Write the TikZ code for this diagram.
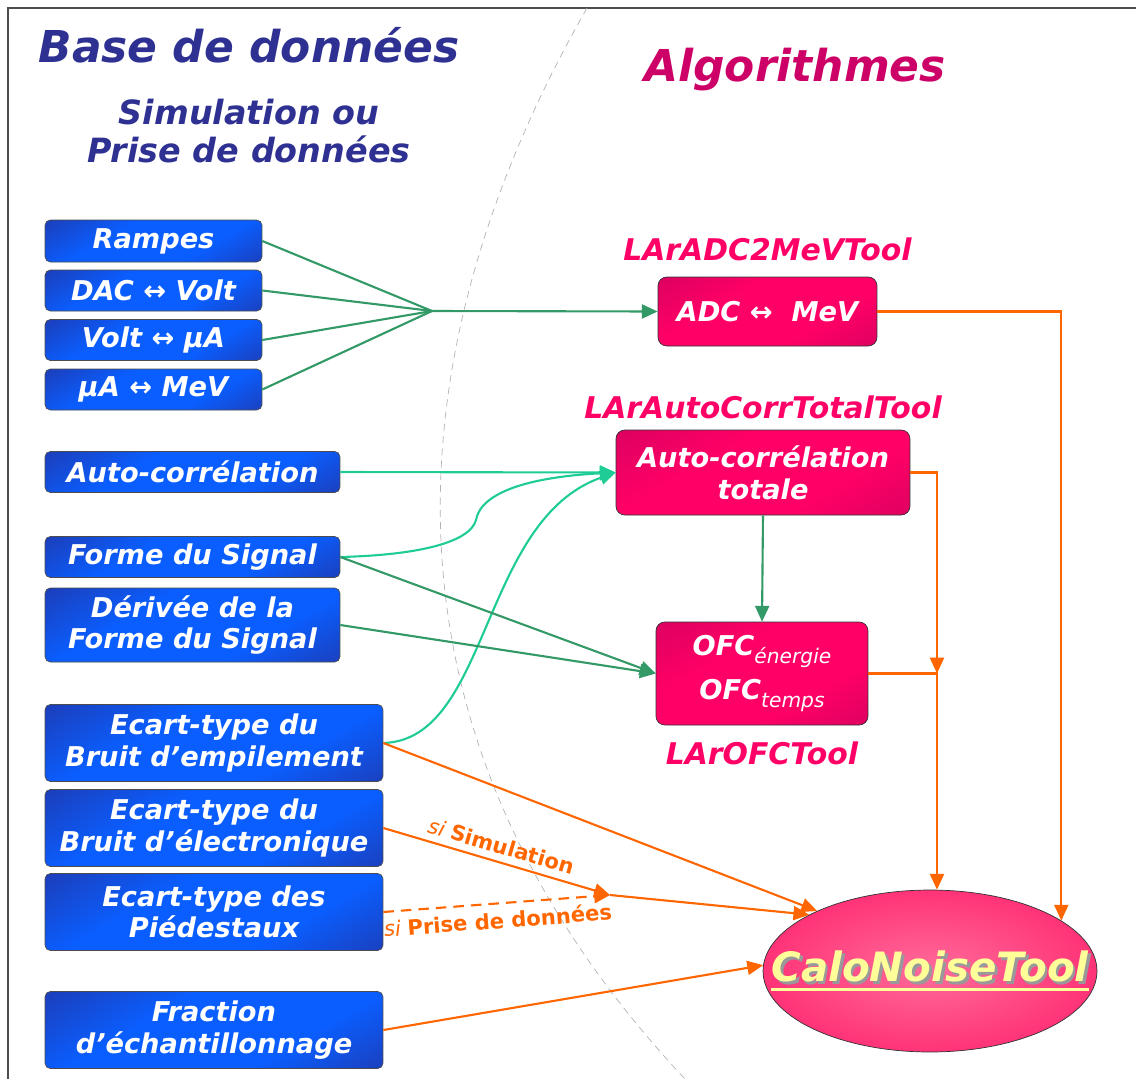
\documentclass[tikz,border=0pt]{standalone}
\usepackage{fontspec}
\setmainfont{DejaVu Sans}
\usetikzlibrary{arrows.meta,shapes.geometric,calc,positioning}

\definecolor{navybox}{HTML}{28288A}
\definecolor{brightbox}{HTML}{0A5EFF}
\definecolor{magdark}{HTML}{C4005C}
\definecolor{magbright}{HTML}{FF0066}
\definecolor{titleblue}{HTML}{2E3192}
\definecolor{titlemag}{HTML}{CC0066}
\definecolor{toolmag}{HTML}{FF0066}
\definecolor{linkgreen}{HTML}{339966}
\definecolor{linkteal}{HTML}{1FCC96}
\definecolor{linkorange}{HTML}{FF6600}
\definecolor{calopink}{HTML}{FF3377}
\definecolor{calolight}{HTML}{FF6B9A}
\definecolor{caloyellow}{HTML}{FFFF99}

\pgfdeclareverticalshading{bluefill}{100bp}{color(0bp)=(navybox); color(35bp)=(brightbox); color(62bp)=(brightbox); color(100bp)=(navybox)}
\pgfdeclareverticalshading{magfill}{100bp}{color(0bp)=(magdark); color(35bp)=(magbright); color(62bp)=(magbright); color(100bp)=(magdark)}

\newcommand{\thickul}[1]{\setbox0\hbox{#1}\rlap{\color{black!40}\hspace{1.5pt}\raisebox{-1.5pt}{#1}}\rlap{\raisebox{-5pt}{\rule{\wd0}{1.8pt}}}\box0}

\begin{document}
\begin{tikzpicture}[x=0.02cm,y=-0.02cm,>={Triangle[length=9pt,width=8pt]}]
\tikzstyle{datab}=[rectangle,rounded corners=3pt,draw=black!70,thin,shading=bluefill,shading angle=30,text=white,font=\fontsize{15.5}{18}\selectfont\bfseries\itshape,align=center,inner sep=2pt]
\tikzstyle{algob}=[rectangle,rounded corners=5pt,draw=black!80,thin,shading=magfill,shading angle=30,text=white,font=\fontsize{15.5}{18}\selectfont\bfseries\itshape,align=center,inner sep=2pt]
\tikzstyle{toolname}=[text=toolmag,font=\fontsize{17}{19}\selectfont\bfseries\itshape,inner sep=1pt]
\tikzstyle{bigtitle}=[font=\fontsize{25}{28}\selectfont\bfseries\itshape]
\tikzstyle{greenlink}=[linkgreen,line width=1.2pt]
\tikzstyle{teallink}=[linkteal,line width=1.2pt]
\tikzstyle{orangelink}=[linkorange,line width=1.2pt]
\tikzstyle{cond}=[text=linkorange,font=\fontsize{12}{14}\selectfont,inner sep=4pt]

\useasboundingbox (0,0) rectangle (1136,1079);
\draw[black!70,line width=1.5pt] (8,1079) -- (8,8) -- (1136,8);
\draw[gray!60,dash pattern=on 4pt off 3pt,thin] (587,8) .. controls (420,300) and (330,700) .. (685,1079);

% titres
\node[bigtitle,text=titleblue] (basetitle) at (249,45) {Base de données};
\node[text=titleblue,align=center,font=\fontsize{19}{22}\selectfont\bfseries\itshape] (source) at (249,131) {Simulation ou\\Prise de données};
\node[bigtitle,text=titlemag] (algotitle) at (795,70) {Algorithmes};

% base de donnees
\node[datab,minimum width=4.34cm,minimum height=0.84cm] (rampes) at (153.5,241) {Rampes};
\node[datab,minimum width=4.34cm,minimum height=0.82cm] (dac) at (153.5,290.5) {DAC ↔ Volt};
\node[datab,minimum width=4.34cm,minimum height=0.82cm] (voltua) at (153.5,340) {Volt ↔ μA};
\node[datab,minimum width=4.34cm,minimum height=0.82cm] (uamev) at (153.5,389.5) {μA ↔ MeV};
\node[datab,minimum width=5.9cm,minimum height=0.82cm] (autocorr) at (192.5,472) {Auto-corrélation};
\node[datab,minimum width=5.9cm,minimum height=0.82cm] (forme) at (192.5,557) {Forme du Signal};
\node[datab,minimum width=5.9cm,minimum height=1.48cm] (derivee) at (192.5,625) {Dérivée de la\\Forme du Signal};
\node[datab,minimum width=6.76cm,minimum height=1.54cm] (empil) at (214,743) {Ecart-type du\\Bruit d'empilement};
\node[datab,minimum width=6.76cm,minimum height=1.54cm] (electro) at (214,828) {Ecart-type du\\Bruit d'électronique};
\node[datab,minimum width=6.76cm,minimum height=1.54cm] (pied) at (214,912) {Ecart-type des\\Piédestaux};
\node[datab,minimum width=6.76cm,minimum height=1.54cm] (fraction) at (214,1030) {Fraction\\d'échantillonnage};

% algorithmes
\node[algob,minimum width=4.38cm,minimum height=1.38cm] (adc) at (767.5,311.5) {ADC ↔~~MeV};
\node[toolname] (adcname) [above=8pt of adc] {LArADC2MeVTool};
\node[algob,minimum width=5.88cm,minimum height=1.7cm] (actot) at (763,472.5) {Auto-corrélation\\totale};
\node[toolname] (actotname) [above=5pt of actot] {LArAutoCorrTotalTool};
\node[algob,minimum width=4.24cm,minimum height=2.06cm] (ofc) at (762,673.5) {OFC\raisebox{-0.5ex}{\fontsize{11.5}{11}\selectfont\mdseries énergie}\\[6pt]OFC\raisebox{-0.5ex}{\fontsize{11.5}{11}\selectfont\mdseries temps}};
\node[toolname] (ofcname) [below=8pt of ofc] {LArOFCTool};
\node[ellipse,draw=black!80,thin,inner color=calolight,outer color=calopink,inner sep=0pt,minimum width=6.68cm,minimum height=3.24cm,text=caloyellow,font=\fontsize{23}{26}\selectfont\bfseries\itshape] (calo) at (930,971) {\makebox[0pt]{\raisebox{3pt}{\thickul{CaloNoiseTool}}}};

\coordinate (fan) at (432,311);
\coordinate (drop) at (937,673.5);
\coordinate (merge) at (610,895);

% liens
\foreach \src in {rampes,dac,voltua,uamev}
  \draw[greenlink] (\src.east) -- (fan);
\draw[greenlink,->] (fan) -- (adc.west);
\draw[teallink,->] (autocorr.east) -- (actot.west);
\draw[teallink,->] (forme.east) .. controls (420,555) and (470,542) .. (476,520) .. controls (481,492) and (530,477) .. (actot.west);
\draw[teallink,->] (empil.east) .. controls (490,740) and (480,520) .. (actot.west);
\draw[greenlink,->] (forme.east) -- (ofc.west);
\draw[greenlink,->] (derivee.east) -- (ofc.west);
\draw[greenlink,->] (actot.south) -- (ofc.north);

\draw[orangelink,->] (adc.east) -| (calo.21);
\draw[orangelink,->] (actot.east) -| (drop);
\draw[orangelink,->] (ofc.east) -- (drop) -- (drop |- calo.north);
\draw[orangelink,->] (empil.east) -- (calo.152);
\draw[orangelink,->] (electro.east) -- node[cond,midway,sloped,above] {\itshape si \upshape\bfseries Simulation} (merge);
\draw[orangelink,dash pattern=on 6pt off 4pt,->] (pied.east) -- node[cond,midway,sloped,below] {\itshape si \upshape\bfseries Prise de données} (merge);
\draw[orangelink,->] (merge) -- (calo.155);
\draw[orangelink,->] (fraction.east) -- (calo.178);
\end{tikzpicture}
\end{document}
